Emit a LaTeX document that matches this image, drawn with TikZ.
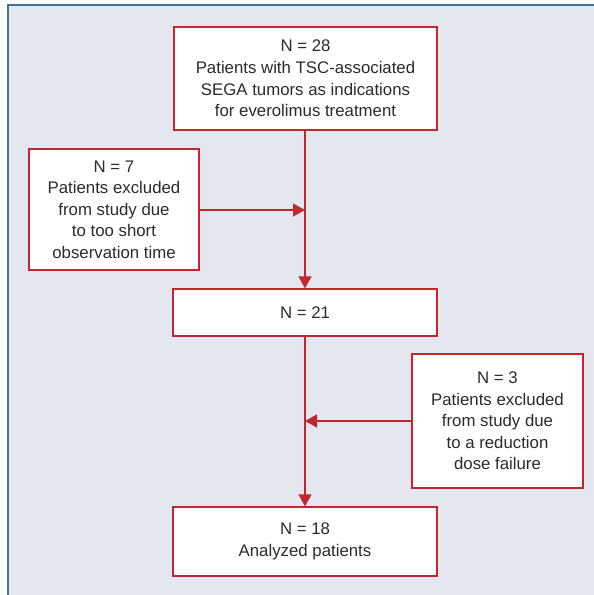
\documentclass[tikz,border=0pt]{standalone}
\usepackage{fontspec}
\setmainfont{Liberation Sans}
\usetikzlibrary{arrows.meta}

\definecolor{boxred}{HTML}{C1272D}
\definecolor{panelbg}{HTML}{E4E7EF}
\definecolor{frameblue}{HTML}{3F72A3}
\definecolor{textgray}{HTML}{2B2B2B}

\tikzset{
  flowbox/.style={draw=boxred, line width=1.3pt, fill=white, align=center,
    text=textgray, font=\fontsize{16.8}{21.6}\selectfont, inner sep=0pt},
  flowarrow/.style={draw=boxred, line width=1.3pt,
    -{Triangle[length=12pt,width=13pt]}}
}

\begin{document}
\begin{tikzpicture}[x=1pt, y=-1pt]
            % Panel
            \useasboundingbox (0,0) rectangle (594,595);
            \fill [panelbg] (8,5) rectangle (594,595);
            \draw [frameblue, line width=2.2pt] (8,595) -- (8,5) -- (594,5);

            % Boxes
            \node [flowbox, minimum width=263pt, minimum height=103pt] (enrolled) at (305.5,78.5)
                {N = 28\\Patients with TSC-associated\\SEGA tumors as indications\\for everolimus treatment};
            \node [flowbox, minimum width=170pt, minimum height=121pt] (shortobs) at (114,209.5)
                {N = 7\\Patients excluded\\from study due\\to too short\\observation time};
            \node [flowbox, minimum width=264pt, minimum height=47pt] (remaining) at (305,312.5)
                {N = 21};
            \node [flowbox, minimum width=171pt, minimum height=134pt] (dosefail) at (497.5,421)
                {N = 3\\Patients excluded\\from study due\\to a reduction\\dose failure};
            \node [flowbox, minimum width=264pt, minimum height=69pt] (analyzed) at (305,541.5)
                {N = 18\\Analyzed patients};

            % Joins on the main line
            \coordinate (joinA) at (305,210);
            \coordinate (joinB) at (305,421);

            % Arrows
            \draw [flowarrow] (enrolled.south -| joinA) -- (remaining.north -| joinA);
            \draw [flowarrow] (shortobs.east |- joinA) -- (joinA);
            \draw [flowarrow] (remaining.south -| joinB) -- (analyzed.north -| joinB);
            \draw [flowarrow] (dosefail.west |- joinB) -- (joinB);
        \end{tikzpicture}
\end{document}
